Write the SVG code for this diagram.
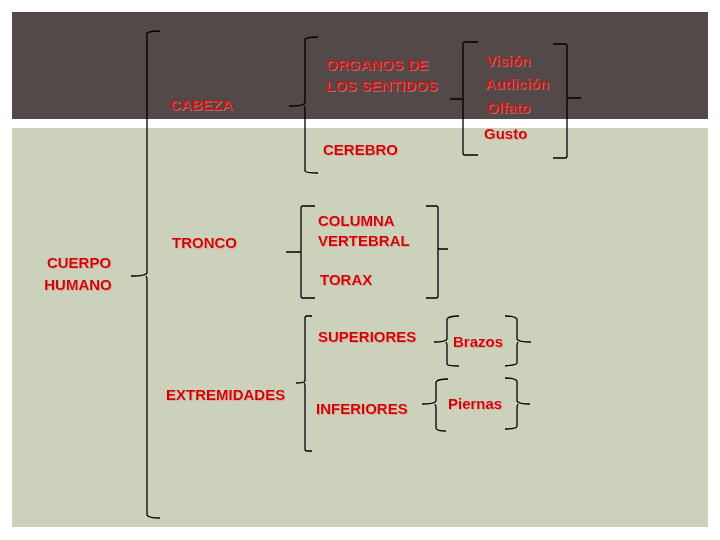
<svg xmlns="http://www.w3.org/2000/svg" width="720" height="540" viewBox="0 0 720 540">
<defs>
<style>
.t{font-family:"Liberation Sans",Arial,sans-serif;font-weight:bold;font-size:15px;fill:#d00000;filter:url(#sh)}
.d{fill:#c41212}
.b{fill:none;stroke:#000;stroke-width:1.3}
</style>
<filter id="sh" x="-10%" y="-30%" width="120%" height="160%">
<feDropShadow dx="1" dy="1" stdDeviation="0.7" flood-color="#e88a8a" flood-opacity="0.6"/>
</filter>
</defs>
<rect x="0" y="0" width="720" height="540" fill="#ffffff"/>
<rect x="12" y="12" width="696" height="107" fill="#524948"/>
<rect x="12" y="128" width="696" height="399" fill="#ccd1bc"/>
<g id="connectors" class="b">
<path d="M160,31 Q150,31 147,33 L147,273 Q146,276 131,276 M146,276 Q147,277 147,280 L147,515 Q148,518 160,518"/>
<path d="M318,37 Q308,37 305,39 L305,103 Q304,106 289,106 M304,106 Q305,107 305,110 L305,171 Q306,173 318,173"/>
<path d="M478,42 L465,42 Q463,42 463,44 L463,153 Q463,155 465,155 L478,155 M450,99 L463,99"/>
<path d="M553,44 L565,44 Q567,44 567,46 L567,156 Q567,158 565,158 L553,158 M567,98 L581,98"/>
<path d="M315,206 L303,206 Q301,206 301,208 L301,296 Q301,298 303,298 L315,298 M286,252 L301,252"/>
<path d="M426,206 L436,206 Q438,206 438,208 L438,296 Q438,298 436,298 L426,298 M438,249 L448,249"/>
<path d="M312,316 L307,316 Q305,316 305,318 L305,381 Q304,383 296,383 M304,383 Q305,384 305,386 L305,449 Q305,451 307,451 L312,451"/>
<path d="M459,316 Q449,316 447,319 L447,339 Q446,342 434,342 M446,342 Q447,344 447,346 L447,364 Q447,366 459,366"/>
<path d="M505,316 Q515,316 517,319 L517,339 Q518,342 531,342 M518,342 Q517,344 517,346 L517,363 Q517,365 505,366"/>
<path d="M448,379 Q438,379 436,382 L436,401 Q435,404 422,404 M435,404 Q436,406 436,408 L436,428 Q436,431 446,431"/>
<path d="M505,378 Q515,378 517,381 L517,401 Q518,404 530,404 M518,404 Q517,406 517,408 L517,426 Q517,429 505,429"/>
</g>
<g id="cuerpo"><text class="t" x="79" y="268" text-anchor="middle">CUERPO</text><text class="t" x="78" y="290" text-anchor="middle">HUMANO</text></g>
<g id="cabeza"><text class="t d" x="170" y="110">CABEZA</text></g>
<g id="organos"><text class="t d" x="326" y="70">ORGANOS DE</text><text class="t d" x="326" y="91">LOS SENTIDOS</text></g>
<g id="cerebro"><text class="t" x="323" y="155">CEREBRO</text></g>
<g id="vision"><text class="t d" x="486" y="66">Visión</text></g>
<g id="audicion"><text class="t d" x="485" y="89">Audición</text></g>
<g id="olfato"><text class="t d" x="487" y="113">Olfato</text></g>
<g id="gusto"><text class="t" x="484" y="139">Gusto</text></g>
<g id="tronco"><text class="t" x="172" y="248">TRONCO</text></g>
<g id="columna"><text class="t" x="318" y="226">COLUMNA</text><text class="t" x="318" y="246">VERTEBRAL</text></g>
<g id="torax"><text class="t" x="320" y="285">TORAX</text></g>
<g id="extremidades"><text class="t" x="166" y="400">EXTREMIDADES</text></g>
<g id="superiores"><text class="t" x="318" y="342">SUPERIORES</text></g>
<g id="inferiores"><text class="t" x="316" y="414">INFERIORES</text></g>
<g id="brazos"><text class="t" x="453" y="347">Brazos</text></g>
<g id="piernas"><text class="t" x="448" y="409">Piernas</text></g>
</svg>
